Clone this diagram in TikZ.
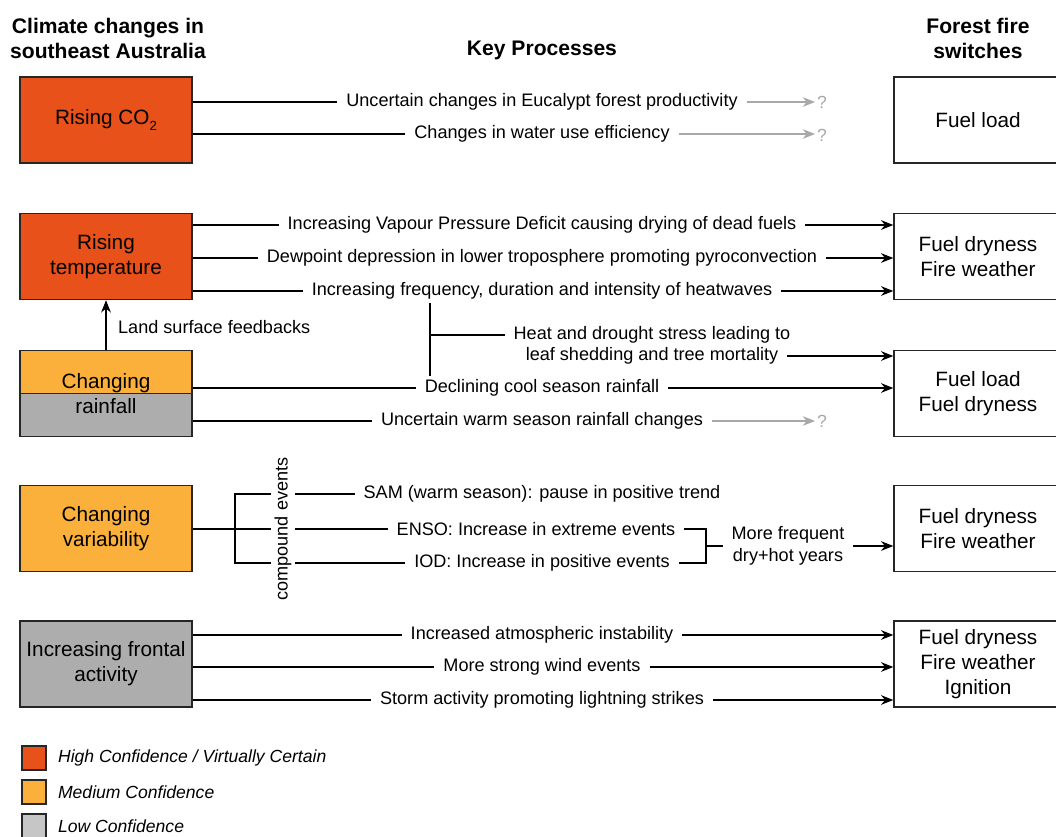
\documentclass[tikz,border=0pt]{standalone}
\usepackage{fontspec}
\setmainfont{Liberation Sans}
\usepackage{tikz}
\usetikzlibrary{arrows.meta,positioning,calc}
\definecolor{hiconf}{HTML}{E8511A}
\definecolor{medconf}{HTML}{FBB03B}
\definecolor{loconf}{HTML}{ADADAD}
\definecolor{legloconf}{HTML}{C6C6C6}
\definecolor{uncert}{HTML}{A8A8A8}

\begin{document}
\begin{tikzpicture}[x=0.02cm,y=-0.02cm,
		driver/.style={draw=black!85,line width=0.8pt,minimum width=3.44cm,minimum height=1.72cm,align=center,font=\fontsize{11.8}{14.2}\selectfont},
		switch/.style={draw=black!85,line width=0.8pt,minimum width=3.36cm,minimum height=1.72cm,align=center,font=\fontsize{11.8}{14.4}\selectfont},
		proc/.style={inner xsep=5pt,inner ysep=2pt,align=center,font=\fontsize{10.3}{12.5}\selectfont},
		head/.style={align=center,font=\fontsize{12}{14.2}\selectfont\bfseries},
		link/.style={line width=0.6pt},
		push/.style={line width=0.6pt,-{Stealth[length=7pt,width=5.5pt]}},
		vague/.style={line width=0.6pt,draw=uncert,-{Stealth[length=7pt,width=5.5pt]}},
		qmark/.style={text=uncert,font=\fontsize{10}{12}\selectfont,inner sep=1pt},
		legbox/.style={draw=black!85,line width=0.7pt,minimum size=0.48cm,inner sep=0pt},
		legtext/.style={font=\fontsize{10}{12}\selectfont\itshape}]
		\useasboundingbox (0,0) rectangle (1056,836);
		% column headings
		\node[head] (hclim) at (108,38) {Climate changes in\\southeast Australia};
		\node[head] (hkey) at (542,50) {Key Processes};
		\node[head] (hfire) at (978,38) {Forest fire\\switches};
		% climate drivers
		\node[driver,fill=hiconf] (co2) at (106,120) {Rising CO\raisebox{-0.55ex}{\fontsize{7.5}{8}\selectfont 2}};
		\node[driver,fill=hiconf] (temp) at (106,256.5) {Rising\\temperature};
		\node[driver,fill=loconf,path picture={
			\fill[medconf] (path picture bounding box.north west) rectangle (path picture bounding box.east);
			\draw[black!85,line width=0.8pt] (path picture bounding box.west) -- (path picture bounding box.east);}] (rain) at (106,393.5) {Changing\\rainfall};
		\node[driver,fill=medconf] (vari) at (106,528.5) {Changing\\variability};
		\node[driver,fill=loconf] (front) at (106,664) {Increasing frontal\\activity};
		% fire switches
		\node[switch] (load1) at (978,120) {Fuel load};
		\node[switch] (dry1) at (978,256.5) {Fuel dryness\\Fire weather};
		\node[switch] (load2) at (978,393.5) {Fuel load\\Fuel dryness};
		\node[switch] (dry2) at (978,528.5) {Fuel dryness\\Fire weather};
		\node[switch] (dry3) at (978,664) {Fuel dryness\\Fire weather\\Ignition};
		% CO2 processes
		\node[proc] (eucal) at (542,102) {Uncertain changes in Eucalypt forest productivity};
		\node[proc] (wue) at (542,134) {Changes in water use efficiency};
		\node[qmark] (q1) at (822,102) {?};
		\node[qmark] (q2) at (822,135) {?};
		\draw[link] (co2.east |- eucal) -- (eucal);
		\draw[vague] (eucal) -- (q1.west |- eucal);
		\draw[link] (co2.east |- wue) -- (wue);
		\draw[vague] (wue) -- (q2.west |- wue);
		% temperature processes
		\node[proc] (vpd) at (542,225) {Increasing Vapour Pressure Deficit causing drying of dead fuels};
		\node[proc] (dew) at (542,258) {Dewpoint depression in lower troposphere promoting pyroconvection};
		\node[proc] (heatw) at (542,291) {Increasing frequency, duration and intensity of heatwaves};
		\draw[link] (temp.east |- vpd) -- (vpd);
		\draw[push] (vpd) -- (vpd -| dry1.west);
		\draw[link] (temp.east |- dew) -- (dew);
		\draw[push] (dew) -- (dew -| dry1.west);
		\draw[link] (temp.east |- heatw) -- (heatw);
		\draw[push] (heatw) -- (heatw -| dry1.west);
		% land surface feedback
		\draw[push] (rain.north) -- (temp.south);
		\node[proc,anchor=west] (land) at (109,327) {Land surface feedbacks};
		% rainfall processes
		\node[proc] (cool) at (542,388) {Declining cool season rainfall};
		\node[proc] (warm) at (542,421) {Uncertain warm season rainfall changes};
		\node[qmark] (q3) at (822,421) {?};
		\node[proc] (stressA) at (652,335) {Heat and drought stress leading to};
		\node[proc] (stressB) at (652,356) {leaf shedding and tree mortality};
		\coordinate (split) at (430,335);
		\draw[link] (heatw.south -| split) -- (cool.north -| split);
		\draw[link] (split) -- (stressA);
		\draw[push] (stressB) -- (stressB -| load2.west);
		\draw[link] (rain.east |- cool) -- (cool);
		\draw[push] (cool) -- (cool -| load2.west);
		\draw[link] (rain.east |- warm) -- (warm);
		\draw[vague] (warm) -- (q3.west |- warm);
		% variability processes
		\node[proc,rotate=90] (comp) at (283,529) {compound events};
		\node[proc] (sam) at (542,494) {SAM (warm season): pause in positive trend};
		\node[proc] (enso) at (536,529) {ENSO: Increase in extreme events};
		\node[proc] (iod) at (542,563) {IOD: Increase in positive events};
		\coordinate (fork) at (235,529);
		\coordinate (join) at (706,546);
		\draw[link] (vari.east |- fork) -- (fork -| comp.north);
		\draw[link] (comp.north |- sam) -| (fork) |- (comp.north |- iod);
		\draw[link] (comp.south |- sam) -- (sam);
		\draw[link] (comp.south |- enso) -- (enso);
		\draw[link] (comp.south |- iod) -- (iod);
		\node[proc] (dryhot) at (788,546) {More frequent\\dry+hot years};
		\draw[link] (enso.east) -| (join) |- (iod.east);
		\draw[link] (join) -- (dryhot);
		\draw[push] (dryhot) -- (dryhot -| dry2.west);
		% frontal processes
		\node[proc] (instab) at (542,635) {Increased atmospheric instability};
		\node[proc] (wind) at (542,667) {More strong wind events};
		\node[proc] (storm) at (542,700) {Storm activity promoting lightning strikes};
		\draw[link] (front.east |- instab) -- (instab);
		\draw[push] (instab) -- (instab -| dry3.west);
		\draw[link] (front.east |- wind) -- (wind);
		\draw[push] (wind) -- (wind -| dry3.west);
		\draw[link] (front.east |- storm) -- (storm);
		\draw[push] (storm) -- (storm -| dry3.west);
		% legend
		\node[legbox,fill=hiconf] (lhi) at (34,758) {};
		\node[legtext,right=3pt of lhi] (thi) {High Confidence / Virtually Certain};
		\node[legbox,fill=medconf] (lmed) at (34,792) {};
		\node[legtext,right=3pt of lmed] (tmed) {Medium Confidence};
		\node[legbox,fill=legloconf] (llo) at (34,826) {};
		\node[legtext,right=3pt of llo] (tlo) {Low Confidence};
	\end{tikzpicture}
\end{document}
